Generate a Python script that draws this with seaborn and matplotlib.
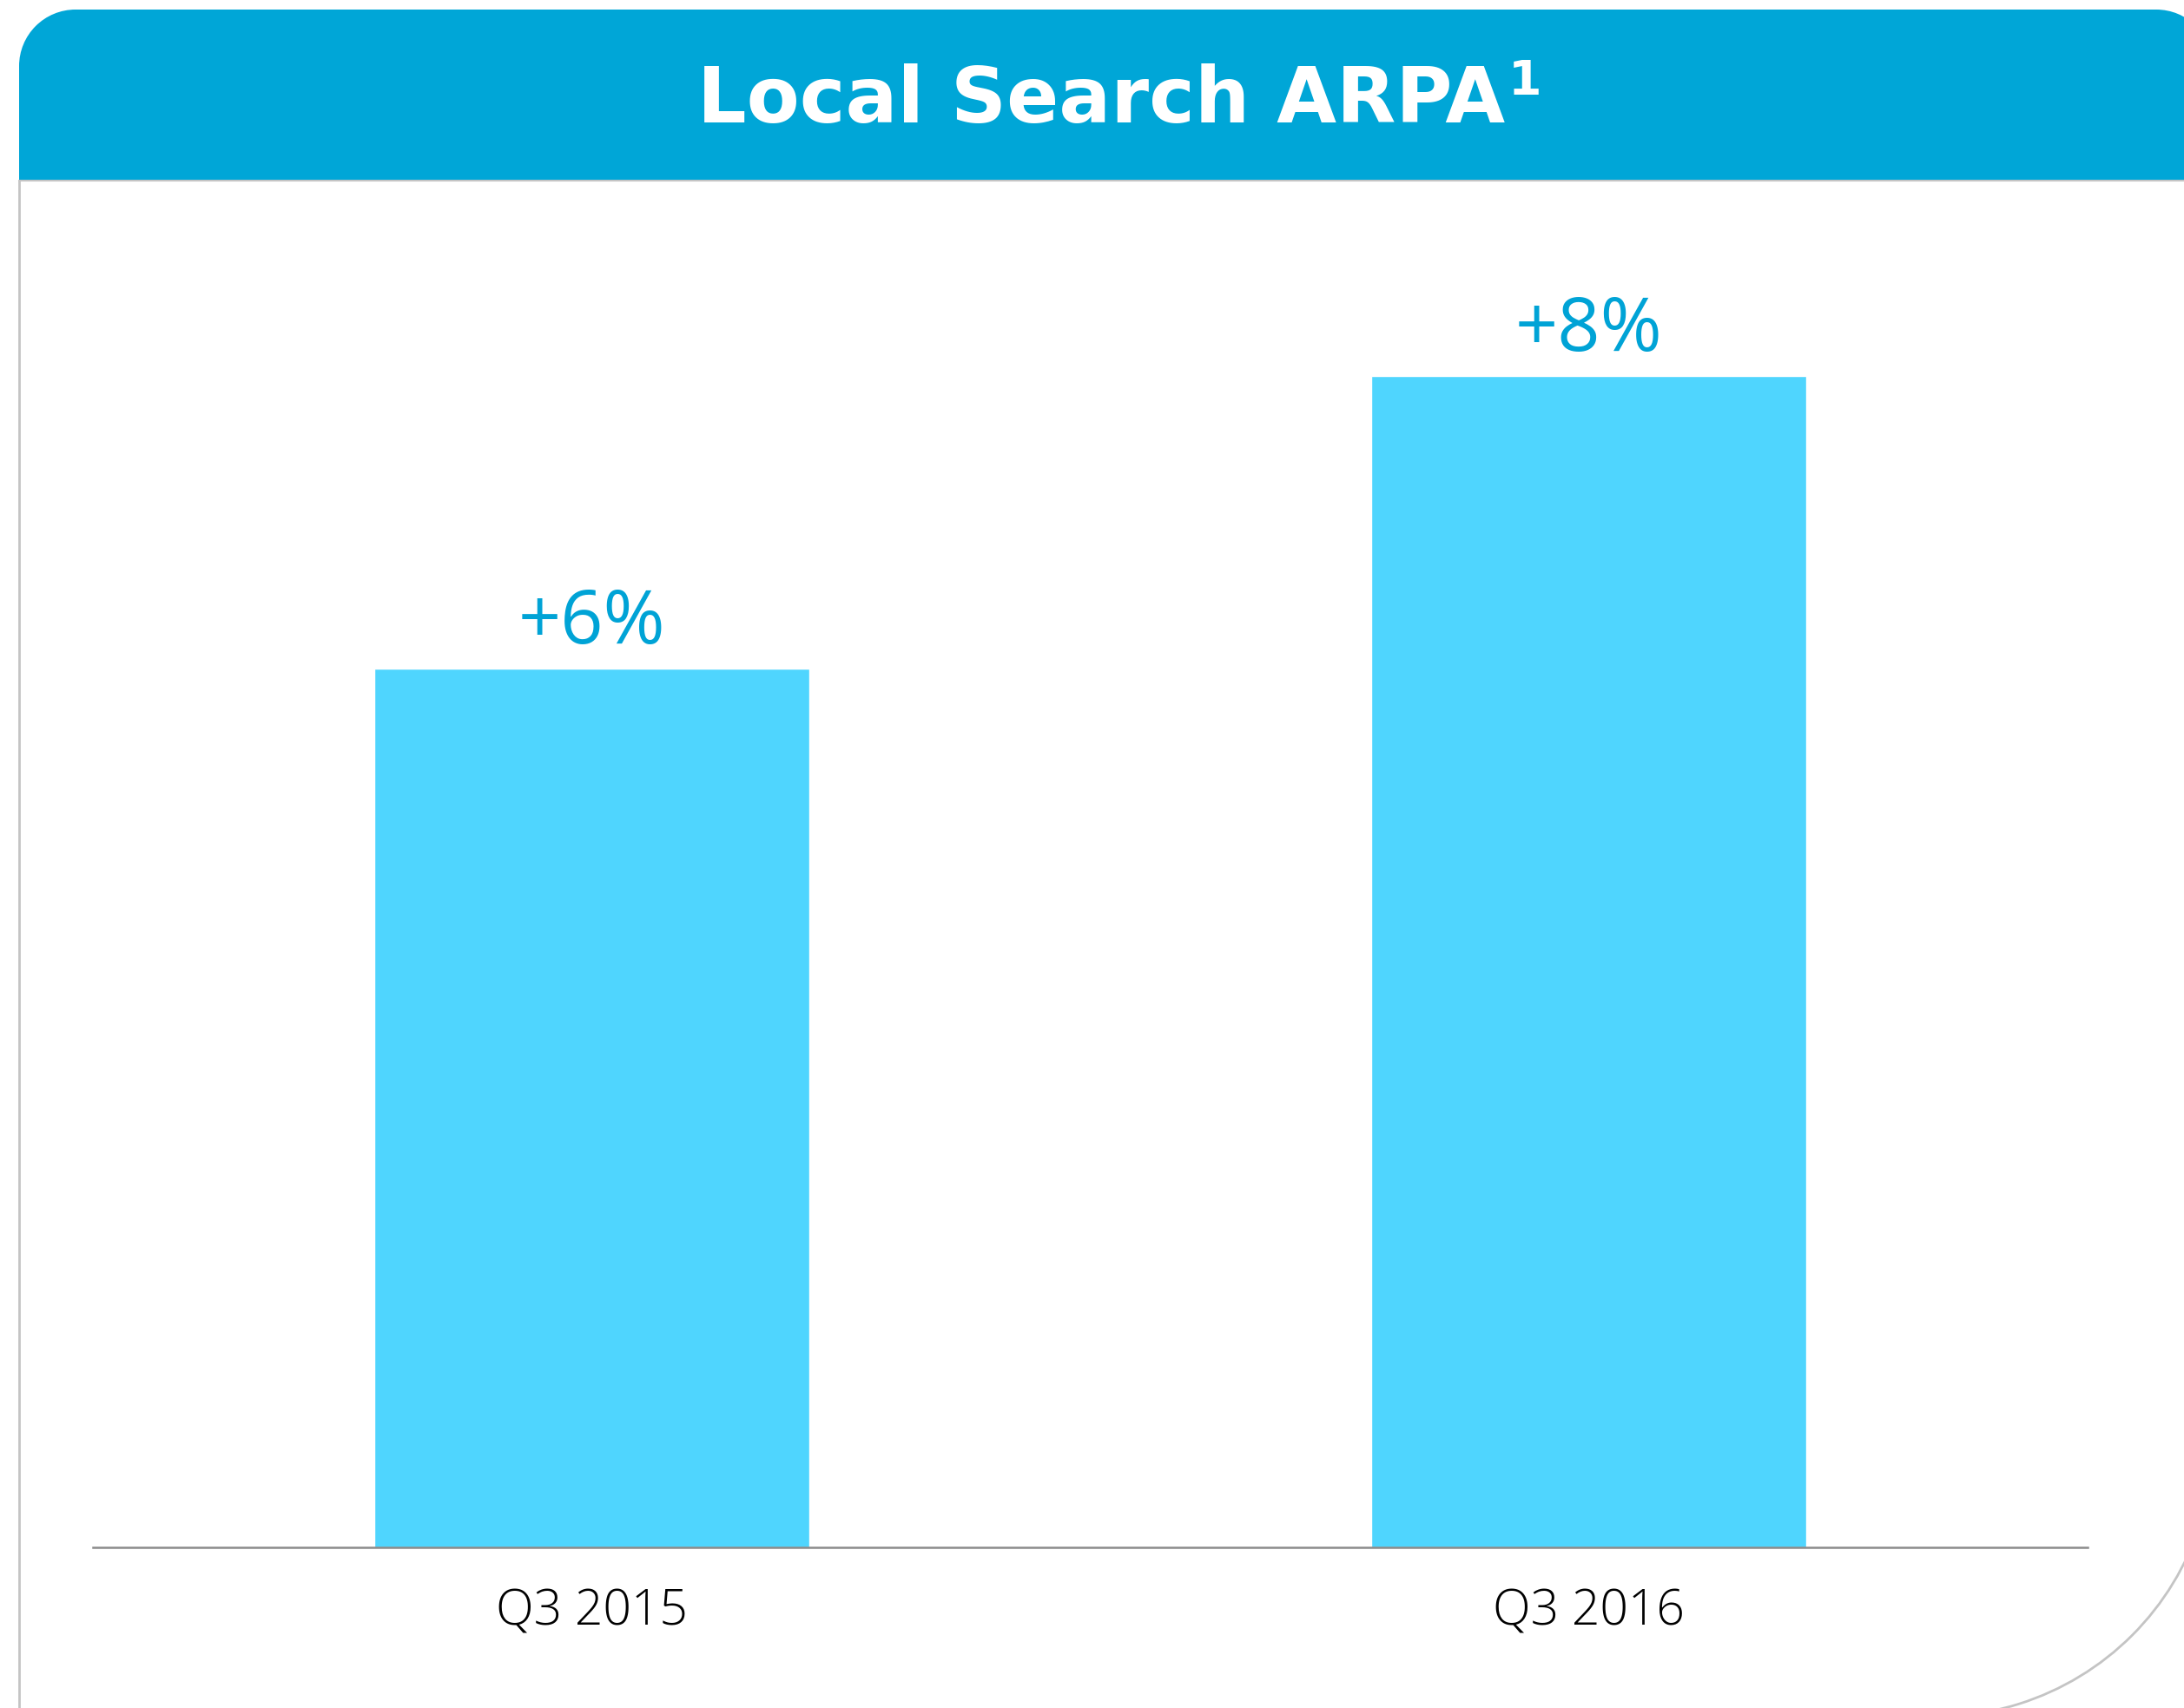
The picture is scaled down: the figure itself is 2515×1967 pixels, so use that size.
import matplotlib
matplotlib.use("Agg")
import matplotlib.pyplot as plt
import seaborn as sns
import pandas as pd
from matplotlib.patches import Rectangle, Circle, Arc

# ---------------------------------------------------------------------
# Data (bar heights, relative units)
# ---------------------------------------------------------------------
quarters = ["Q3 2015", "Q3 2016"]
arpa_index = [75, 100]
growth_labels = ["+6%", "+8%"]
title_text = "Local Search ARPA"
title_note = "1"

HEADER_BLUE = "#00a6d7"
BAR_BLUE = "#4fd5fe"
LABEL_BLUE = "#00a3d6"
FRAME_GRAY = "#c4c4c4"

W, H = 2515, 1967
DPI = 100

sns.set_theme(style="white")
plt.rcParams["font.family"] = ["Open Sans", "DejaVu Sans"]

fig = plt.figure(figsize=(W / DPI, H / DPI), dpi=DPI)
fig.patch.set_facecolor("white")

# background layer in pixel coordinates
bg = fig.add_axes([0, 0, 1, 1], zorder=0)
bg.set_xlim(0, W)
bg.set_ylim(H, 0)
bg.axis("off")

# header band with rounded top corners
r = 65
x0, x1, y0, y1 = 22, 2548, 11, 207
for patch in [Rectangle((x0 + r, y0), x1 - x0 - 2 * r, y1 - y0),
              Rectangle((x0, y0 + r), x1 - x0, y1 - y0 - r),
              Circle((x0 + r, y0 + r), r),
              Circle((x1 - r, y0 + r), r)]:
    patch.set_facecolor(HEADER_BLUE)
    patch.set_edgecolor("none")
    bg.add_patch(patch)
bg.plot([x0, W], [y1 + 1, y1 + 1], color=FRAME_GRAY, lw=1.5)

# frame: left edge and lower right corner
bg.plot([22, 22], [y1 + 1, H], color=FRAME_GRAY, lw=2)
bg.add_patch(Arc((2229, 1657), 640, 640, theta1=-10, theta2=100,
                 color=FRAME_GRAY, lw=2))

title = bg.text(803, 141, title_text, color="white", fontsize=64,
                fontweight="bold", family="DejaVu Sans",
                ha="left", va="baseline")
fig.canvas.draw()
tb = title.get_window_extent()
bg.text(tb.x1 + 4, 109, title_note, color="white", fontsize=40,
        fontweight="bold", family="DejaVu Sans", ha="left", va="baseline")

# ---------------------------------------------------------------------
# Bar chart
# ---------------------------------------------------------------------
ax_bottom = 1782
ax_top = 300
ax = fig.add_axes([107 / W, (H - ax_bottom) / H, 2297 / W,
                   (ax_bottom - ax_top) / H], zorder=1)
ax.patch.set_alpha(0)

df = pd.DataFrame({"quarter": quarters, "arpa": arpa_index})
sns.barplot(data=df, x="quarter", y="arpa", color=BAR_BLUE,
            saturation=1, width=0.436, ax=ax)

px_per_unit = (ax_bottom - 433) / max(arpa_index)
ax.set_ylim(0, (ax_bottom - ax_top) / px_per_unit)
ax.set_xlim(-0.5, len(quarters) - 0.5)

for i, (v, lab) in enumerate(zip(arpa_index, growth_labels)):
    ax.text(i, v + 29 / px_per_unit, lab, color=LABEL_BLUE, fontsize=62,
            ha="center", va="baseline")

ax.set_xlabel("")
ax.set_ylabel("")
ax.set_yticks([])
for side in ["top", "right", "left"]:
    ax.spines[side].set_visible(False)
ax.spines["bottom"].set_color("#8a8a8a")
ax.spines["bottom"].set_linewidth(1.8)
ax.tick_params(axis="x", length=0, pad=33, labelsize=41,
               labelcolor="black")
for t in ax.get_xticklabels():
    t.set_fontweight("light")

fig.savefig("out.png", dpi=DPI)
